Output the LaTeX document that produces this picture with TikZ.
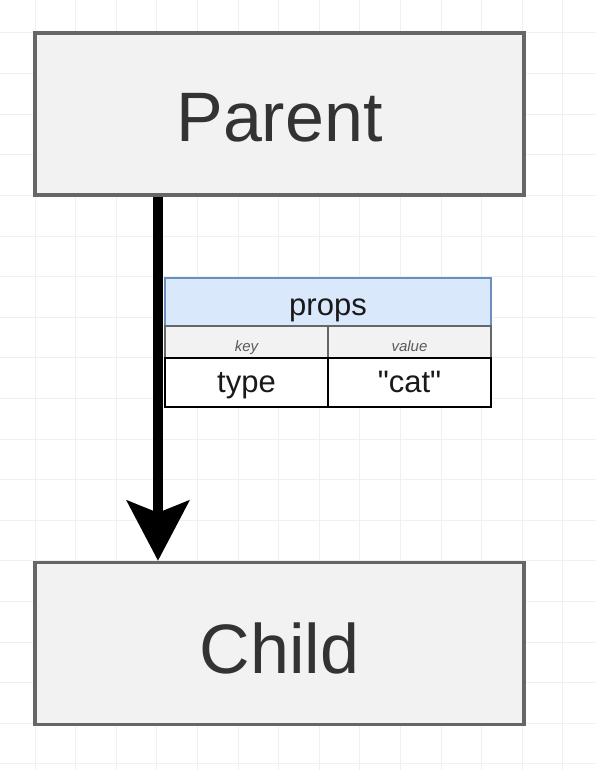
\documentclass[tikz,border=0pt]{standalone}
\usepackage{fontspec}
\setmainfont{Liberation Sans}[Ligatures=TeXOff]
\usetikzlibrary{arrows.meta}
\definecolor{boxfill}{HTML}{F2F2F2}
\definecolor{boxline}{HTML}{666666}
\definecolor{txt}{HTML}{333333}
\definecolor{gridc}{HTML}{F0F0F0}
\definecolor{hdrfill}{HTML}{DAE8FC}
\definecolor{hdrline}{HTML}{6C8EBF}
\tikzset{
  bigbox/.style={draw=boxline, fill=boxfill, line width=3.5pt, minimum width=489pt, minimum height=162pt, inner sep=0pt, text=txt, font=\fontsize{70}{84}\selectfont, text depth=0pt},
  hdr/.style={draw=hdrline, fill=hdrfill, line width=2pt, minimum width=326pt, minimum height=48pt, inner sep=0pt, text=black!90, font=\fontsize{31}{37}\selectfont, text height=26pt, text depth=0pt},
  keycell/.style={draw=boxline, fill=boxfill, line width=2pt, minimum width=163pt, minimum height=32pt, inner sep=0pt, text=black!65, font=\fontsize{15}{18}\selectfont\itshape, text height=19pt, text depth=0pt},
  valcell/.style={draw=black, fill=white, line width=2.5pt, minimum width=163pt, minimum height=49pt, inner sep=0pt, text=black!90, font=\fontsize{31}{37}\selectfont, text height=20pt, text depth=0pt},
  flow/.style={line width=10pt, draw=black, -{Stealth[length=60pt,width=62pt,inset=12pt]}}
}
\begin{document}
\begin{tikzpicture}[x=1pt,y=-1pt]
\useasboundingbox (0,0) rectangle (596,770);
\fill[white] (0,0) rectangle (596,770);
% grid
\foreach \i in {0,...,14} {
  \draw[gridc, line width=1pt] ({35+40.6*\i},0) -- ({35+40.6*\i},770);
}
\foreach \j in {0,...,18} {
  \draw[gridc, line width=1pt] (0,{33+40.6*\j}) -- (596,{33+40.6*\j});
}
\node[bigbox, text height=55.4pt] (parent) at (279.5,114) {Parent};
\node[bigbox, text height=59.6pt] (child) at (279.5,643.5) {Child};
\coordinate (ax) at (158,0);
\draw[flow] (parent.south -| ax) -- (child.north -| ax);
\node[hdr] (props) at (328,302) {props};
\node[keycell] (key) at (246.5,342) {key};
\node[keycell] (value) at (409.5,342) {value};
\node[valcell] (type) at (246.5,382.5) {type};
\node[valcell] (cat) at (409.5,382.5) {"cat"};
\end{tikzpicture}
\end{document}
